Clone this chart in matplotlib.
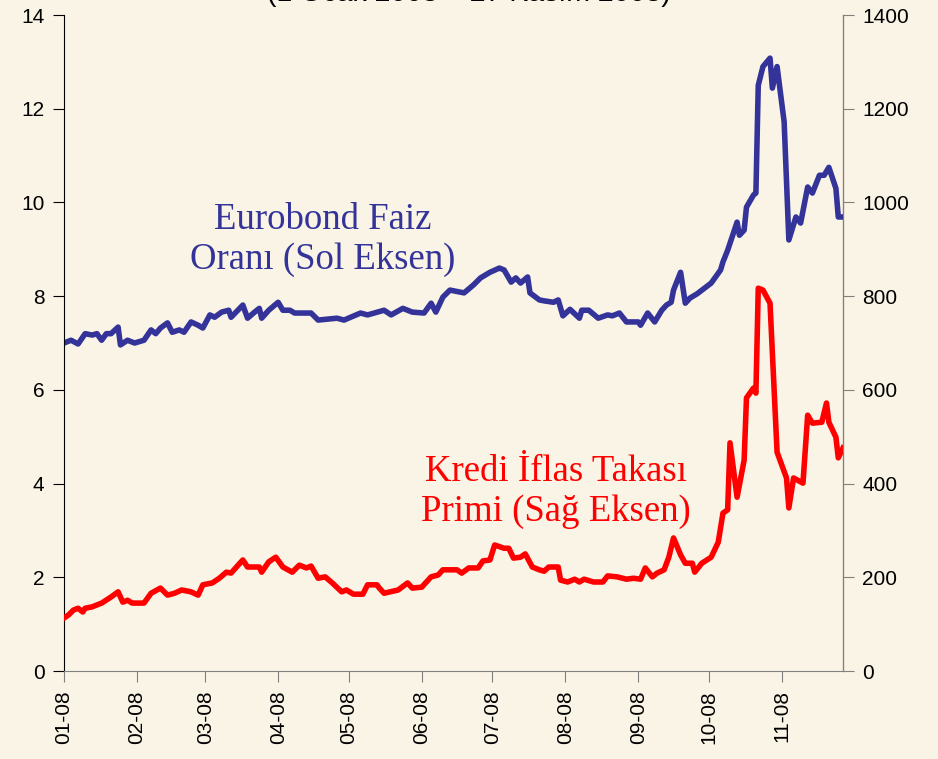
import pandas as pd
import matplotlib
matplotlib.use("Agg")
import matplotlib.pyplot as plt
import matplotlib.dates as mdates

# days counted from 1 Jan 2008
eb_days = [0, 3, 6, 9, 12, 14, 16, 18, 20, 23, 24, 27, 30, 34, 37, 39, 41, 44, 46, 49,
           51, 54, 57, 59, 62, 64, 67, 70, 71, 76, 78, 81, 83, 84, 87, 91, 93, 96, 98, 103,
           105, 108, 116, 119, 126, 129, 136, 139, 144, 148, 153, 156, 158, 161, 164, 168, 170, 174, 177, 181,
           185, 187, 190, 192, 194, 197, 198, 202, 204, 208, 210, 212, 215, 219, 220, 223, 227, 231, 233, 236,
           239, 244, 245, 248, 251, 254, 256, 258, 259, 262, 264, 266, 269, 275, 279, 280, 282, 286, 287, 289,
           290, 293, 294, 295, 297, 300, 301, 303, 306, 308, 311, 313, 316, 318, 321, 323, 325, 328, 329, 331]
eurobond = [7.0, 7.06, 6.98, 7.2, 7.17, 7.2, 7.06, 7.2, 7.2, 7.34, 6.96, 7.06, 7.0, 7.06, 7.28, 7.2, 7.32, 7.43, 7.23, 7.28,
            7.23, 7.45, 7.38, 7.32, 7.6, 7.55, 7.66, 7.7, 7.55, 7.81, 7.53, 7.66, 7.74, 7.53, 7.7, 7.87, 7.7, 7.7, 7.64, 7.64,
            7.64, 7.49, 7.53, 7.49, 7.64, 7.6, 7.7, 7.6, 7.74, 7.66, 7.64, 7.85, 7.66, 7.98, 8.13, 8.09, 8.07, 8.24, 8.39, 8.51,
            8.6, 8.56, 8.3, 8.39, 8.28, 8.41, 8.07, 7.92, 7.9, 7.87, 7.92, 7.58, 7.72, 7.53, 7.7, 7.7, 7.53, 7.6, 7.58, 7.64,
            7.45, 7.45, 7.38, 7.64, 7.45, 7.7, 7.81, 7.87, 8.13, 8.51, 7.85, 7.96, 8.05, 8.28, 8.56, 8.73, 8.98, 9.58, 9.3, 9.41,
            9.9, 10.16, 10.2, 12.5, 12.9, 13.08, 12.44, 12.9, 11.72, 9.2, 9.69, 9.56, 10.33, 10.2, 10.58, 10.58, 10.75, 10.3, 9.69, 9.69]

cds_days = [0, 2, 4, 6, 8, 9, 12, 16, 20, 23, 25, 27, 29, 34, 37, 41, 44, 47, 50, 54,
            57, 59, 63, 66, 69, 71, 74, 76, 78, 83, 84, 87, 90, 93, 97, 100, 103, 105, 108, 111,
            114, 118, 120, 123, 127, 129, 133, 134, 136, 142, 146, 148, 152, 156, 159, 161, 167, 169, 172, 176,
            178, 181, 183, 187, 189, 191, 194, 196, 199, 202, 204, 206, 210, 211, 214, 217, 219, 221, 225, 229,
            231, 235, 239, 242, 245, 247, 250, 252, 255, 257, 259, 262, 264, 267, 268, 271, 275, 278, 280, 282,
            283, 286, 289, 290, 293, 294, 295, 297, 300, 303, 307, 308, 310, 314, 316, 318, 322, 324, 325, 328,
            329, 331]
cds = [113, 120, 130, 134, 126, 134, 137, 145, 158, 169, 147, 151, 145, 145, 166, 177, 162, 166, 173, 169,
       162, 184, 188, 198, 211, 209, 226, 237, 222, 222, 211, 233, 243, 222, 211, 226, 220, 224, 198, 201,
       188, 169, 173, 164, 164, 184, 184, 177, 166, 173, 188, 177, 179, 201, 205, 216, 216, 209, 220, 220,
       235, 237, 269, 262, 262, 241, 243, 250, 222, 216, 213, 222, 222, 194, 190, 196, 190, 196, 190, 190,
       203, 201, 196, 198, 196, 220, 201, 209, 216, 243, 284, 248, 230, 230, 211, 230, 243, 275, 337, 344,
       487, 371, 450, 583, 604, 593, 817, 813, 785, 467, 412, 348, 412, 401, 546, 529, 531, 572, 531, 499,
       455, 476]

start = pd.Timestamp("2008-01-01")
eb_dates = [start + pd.Timedelta(days=d) for d in eb_days]
cds_dates = [start + pd.Timedelta(days=d) for d in cds_days]

bg = "#FAF4E6"
blue = "#333399"
red = "#FF0000"

plt.rcParams["font.family"] = ["Liberation Sans", "DejaVu Sans"]

fig = plt.figure(figsize=(9.38, 7.59), dpi=100, facecolor=bg)
ax = fig.add_axes([0.0682, 0.1159, 0.8305, 0.8643])
ax.set_facecolor(bg)
ax2 = ax.twinx()

ax.plot(eb_dates, eurobond, color=blue, lw=4, solid_joinstyle="round")
ax2.plot(cds_dates, cds, color=red, lw=4, solid_joinstyle="round")

ax.set_ylim(0, 14)
ax.set_yticks(range(0, 15, 2))
ax2.set_ylim(0, 1400)
ax2.set_yticks(range(0, 1401, 200))
ax.set_xlim(start, pd.Timestamp("2008-11-27"))

ax.xaxis.set_major_locator(mdates.MonthLocator())
ax.xaxis.set_major_formatter(mdates.DateFormatter("%m-%y"))
for lab in ax.get_xticklabels():
    lab.set_rotation(90)

for a in (ax, ax2):
    a.spines["top"].set_visible(False)
ax.spines["left"].set_color("black")
ax.spines["bottom"].set_color("#808080")
ax2.spines["right"].set_color("#808080")
ax2.spines["left"].set_visible(False)
ax2.spines["bottom"].set_visible(False)

ax.tick_params(axis="y", labelsize=15, length=8, direction="out", color="black", pad=6)
ax.tick_params(axis="x", labelsize=15, length=8, direction="out", color="#808080", pad=6)
ax2.tick_params(axis="y", labelsize=15, length=8, direction="out", color="#808080", pad=6)

fig.text(0.5, 1.008, "(1 Ocak 2008 – 27 Kasım 2008)", ha="center", va="center", fontsize=20.5)

ax.text(pd.Timestamp("2008-04-20"), 9.2, "Eurobond Faiz\nOranı (Sol Eksen)", color=blue,
        family="Liberation Serif", fontsize=26.5, ha="center", va="center", linespacing=1.2)
ax2.text(pd.Timestamp("2008-07-28"), 382, "Kredi İflas Takası\nPrimi (Sağ Eksen)", color=red,
         family="Liberation Serif", fontsize=26.5, ha="center", va="center", linespacing=1.2)

fig.savefig("out.png", dpi=100, facecolor=bg)
